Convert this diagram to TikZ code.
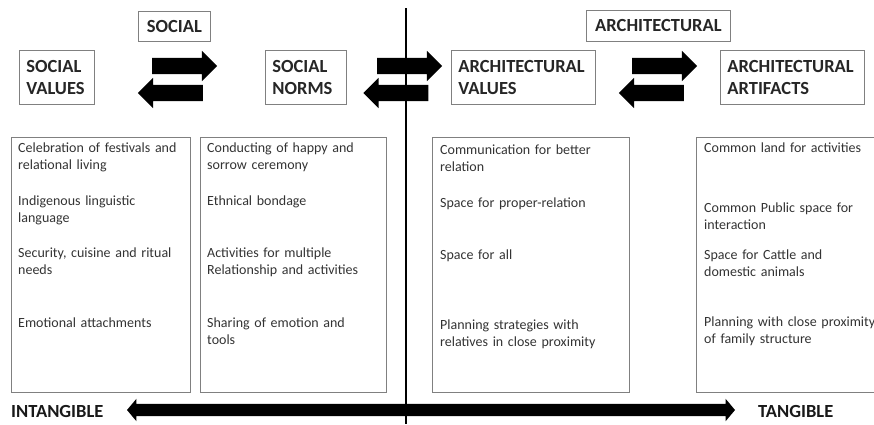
\documentclass[tikz,border=0pt]{standalone}
\usepackage{fontspec}
\setmainfont{Carlito}
\usetikzlibrary{shapes.arrows}

\begin{document}
\begin{tikzpicture}[
                x=1pt, y=-1pt,
                headbox/.style={draw=black!50,line width=0.8pt,text=black!85,
                                font=\fontsize{18.5}{22}\selectfont\bfseries,
                                align=left,inner xsep=7pt,inner ysep=0pt,anchor=north west},
                listbox/.style={draw=black!50,line width=0.8pt,inner sep=0pt,anchor=north west},
                item/.style={font=\fontsize{14}{17}\selectfont,text=black!80,
                             align=left,text width=200pt,inner sep=0pt,anchor=north west},
                fatarrow/.style={single arrow,fill=black,inner xsep=0pt,inner ysep=8pt,
                                 single arrow head extend=7pt,minimum height=65pt},
                scaletag/.style={font=\fontsize{18.5}{22}\selectfont\bfseries,text=black!90,
                                 inner sep=0pt,anchor=west}]
                \useasboundingbox (0,0) rectangle (874,424);

                % heading boxes
                \node[headbox,align=center,minimum width=72pt,minimum height=30pt] (social) at (138,11) {SOCIAL};
                \node[headbox,align=center,minimum width=144pt,minimum height=31pt] (arch) at (586,10) {ARCHITECTURAL};
                \node[headbox,text width=61pt,minimum height=54pt] (socval) at (19,50) {SOCIAL\\VALUES};
                \node[headbox,text width=67pt,minimum height=54pt] (socnorm) at (265,50) {SOCIAL\\NORMS};
                \node[headbox,text width=130pt,minimum height=54pt] (archval) at (451,50) {ARCHITECTURAL\\VALUES};
                \node[headbox,text width=130pt,minimum height=54pt] (archart) at (720,50) {ARCHITECTURAL\\ARTIFACTS};

                % two-way arrows between the headings
                \node[fatarrow] (fwdA) at (180.5,66) {};
                \node[fatarrow,shape border rotate=180] (backA) at (174.5,93) {};
                \node[fatarrow] (fwdB) at (405.5,66) {};
                \node[fatarrow,shape border rotate=180] (backB) at (400,93) {};
                \node[fatarrow] (fwdC) at (660.5,66) {};
                \node[fatarrow,shape border rotate=180] (backC) at (655.5,93) {};

                % lists
                \node[listbox,minimum width=179pt,minimum height=255pt] (vallist) at (11,137) {};
                \node[listbox,minimum width=186pt,minimum height=255pt] (normlist) at (200,137) {};
                \node[listbox,minimum width=197pt,minimum height=255pt] (avallist) at (432,137) {};
                \node[listbox,minimum width=190pt,minimum height=255pt] (artlist) at (696,137) {};

                \node[item] (val1) at (18,143) {Celebration of festivals and\\relational living};
                \node[item] (val2) at (18,196) {Indigenous linguistic\\language};
                \node[item] (val3) at (18,248) {Security, cuisine and ritual\\needs};
                \node[item] (val4) at (18,318) {Emotional attachments};

                \node[item] (norm1) at (207,143) {Conducting of happy and\\sorrow ceremony};
                \node[item] (norm2) at (207,196) {Ethnical bondage};
                \node[item] (norm3) at (207,248) {Activities for multiple\\Relationship and activities};
                \node[item] (norm4) at (207,318) {Sharing of emotion and\\tools};

                \node[item] (aval1) at (440,145) {Communication for better\\relation};
                \node[item] (aval2) at (440,198) {Space for proper-relation};
                \node[item] (aval3) at (440,250) {Space for all};
                \node[item] (aval4) at (440,320) {Planning strategies with\\relatives in close proximity};

                \node[item] (art1) at (704,143) {Common land for activities};
                \node[item] (art2) at (704,203) {Common Public space for\\interaction};
                \node[item] (art3) at (704,250) {Space for Cattle and\\domestic animals};
                \node[item] (art4) at (704,317) {Planning with close proximity\\of family structure};

                % intangible -- tangible scale
                \node[double arrow,fill=black,inner xsep=0pt,inner ysep=6pt,
                      double arrow head extend=5pt,double arrow tip angle=100,
                      minimum height=608pt] (scale) at (431,410) {};
                \node[scaletag] (intang) at (11,411) {INTANGIBLE};
                \node[scaletag] (tang) at (758,411) {TANGIBLE};

                % divider
                \coordinate (divtop) at (406,8);
                \coordinate (divbot) at (406,424);
                \draw[line width=1.6pt] (divtop) -- (divbot);
            \end{tikzpicture}
\end{document}
